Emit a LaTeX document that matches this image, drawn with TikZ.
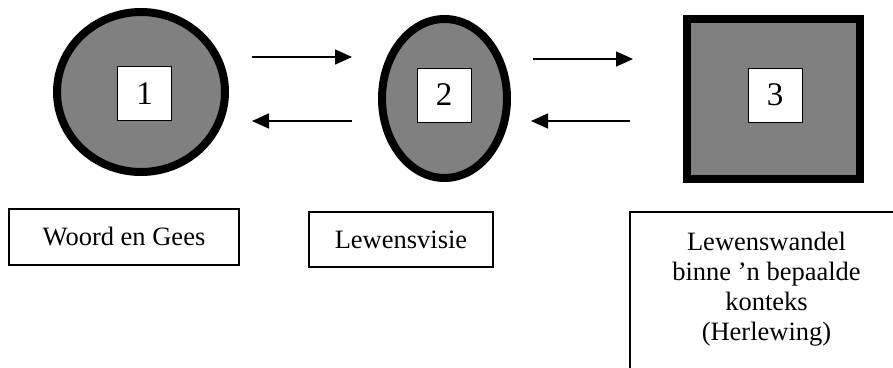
\documentclass[tikz,border=0pt]{standalone}
\usepackage{fontspec}
\setmainfont{Liberation Serif}
\usepackage{xcolor}
\usepackage{tikz}
\usetikzlibrary{shapes.geometric, arrows.meta, positioning, calc}
\definecolor{vormkleur}{RGB}{128,128,128}

\begin{document}
\begin{tikzpicture}[x=1pt, y=-1pt,
    vorm/.style={draw, line width=8pt, fill=vormkleur, inner sep=0pt, outer sep=0pt},
    nommer/.style={draw, line width=1pt, fill=white, minimum size=54pt, inner sep=0pt, font=\fontsize{33}{36}\selectfont},
    kassie/.style={draw, line width=1.2pt, inner sep=0pt, outer sep=0pt, font=\fontsize{26.5}{30}\selectfont},
    pyl/.style={-{Triangle[length=17pt, width=15pt]}, line width=1.6pt}]
    \useasboundingbox (0,0) rectangle (893,367);
    \clip (0,0) rectangle (893,367);

    % Vorms
    \node[vorm, ellipse, minimum width=168pt, minimum height=160pt] (een) at (141,92) {};
    \node[vorm, ellipse, minimum width=125pt, minimum height=159pt] (twee) at (444.5,98.5) {};
    \node[vorm, rectangle, minimum width=173pt, minimum height=160pt] (drie) at (773.5,99) {};

    \node[nommer] (n1) at (144.5,93.5) {1};
    \node[nommer] (n2) at (444,95) {2};
    \node[nommer] (n3) at (775,95) {3};

    % Pyle
    \coordinate (bo1) at (0,57);
    \coordinate (bo2) at (0,59);
    \coordinate (onder) at (0,121);

    \draw[pyl, shorten <=27pt, shorten >=30pt] (een.east |- bo1) -- (twee.west |- bo1);
    \draw[pyl, shorten <=30pt, shorten >=27pt] (twee.west |- onder) -- (een.east |- onder);
    \draw[pyl, shorten <=26pt, shorten >=54pt] (twee.east |- bo2) -- (drie.west |- bo2);
    \draw[pyl, shorten <=57pt, shorten >=24pt] (drie.west |- onder) -- (twee.east |- onder);

    % Kassies
    \node[kassie, minimum width=230pt, minimum height=56pt] (woord) at (124,237) {Woord en Gees};
    \node[kassie, minimum width=184pt, minimum height=55pt] (visie) at (401,239.5) {Lewensvisie};
    \node[kassie, anchor=north, minimum width=273pt, minimum height=180pt] (wandel) at (766.5,212) {};
    \node[kassie, draw=none, anchor=north, align=center] (wandelteks) at ([yshift=-20pt]wandel.north)
        {Lewenswandel\\binne ’n bepaalde\\konteks\\(Herlewing)};
\end{tikzpicture}
\end{document}
